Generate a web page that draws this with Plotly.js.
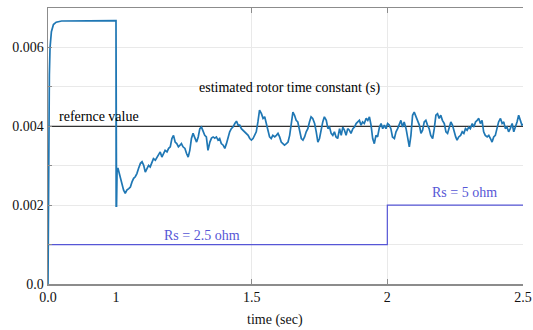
<!DOCTYPE html>
<html>
<head>
<meta charset="utf-8">
<script src="https://cdn.plot.ly/plotly-3.0.1.min.js"></script>
<style>html,body{margin:0;padding:0;background:#fff}#chart{width:533px;height:330px}</style>
</head>
<body>
<div id="chart"></div>
<script>
// ---- data ----
const estTime = [0,0.005,0.01,0.02,0.03,0.05,0.08,0.12,0.2,0.5,0.999,
1.000,1.002,1.004,1.007,1.012,1.020,1.028,1.034,1.040,1.047,1.053,1.059,1.065,1.071,1.077,1.083,1.090,1.096,1.102,1.108,1.114,1.120,1.126,1.132,1.138,1.145,1.151,1.157,1.163,1.169,1.175,1.181,1.188,1.194,1.200,1.206,1.212,1.218,1.224,1.230,
1.236,1.241,1.247,1.254,1.260,1.266,1.272,1.278,1.284,1.290,1.297,1.303,1.309,1.315,1.321,1.327,1.333,1.339,1.346,1.352,1.358,1.364,1.370,1.376,1.382,1.388,1.395,1.401,1.407,1.413,1.419,1.425,1.431,1.438,1.444,1.450,1.456,1.462,1.468,1.474,1.480,1.487,1.493,
1.499,1.505,1.511,1.517,1.523,1.529,1.536,1.542,1.548,1.554,1.560,1.566,1.572,1.578,1.585,1.591,1.597,1.603,1.609,1.615,1.621,1.628,1.634,1.640,1.646,1.652,1.658,1.664,1.670,1.676,1.683,1.689,1.695,1.701,1.707,1.713,1.719,1.725,1.732,1.738,1.744,
1.750,1.756,1.762,1.768,1.775,1.781,1.787,1.793,1.799,1.805,1.811,1.817,1.824,1.830,1.836,1.842,1.848,1.854,1.860,1.866,1.873,1.879,1.885,1.891,1.897,1.903,1.909,1.915,1.922,1.928,1.934,1.940,1.946,1.952,1.958,1.964,1.971,1.977,1.983,1.989,1.995,2.001,
2.007,2.013,2.019,2.026,2.032,2.038,2.044,2.050,2.056,2.062,2.069,2.075,2.081,2.087,2.093,2.099,2.105,2.111,2.118,2.124,2.130,2.136,2.142,2.148,2.154,2.160,2.167,2.173,2.179,2.185,2.191,2.197,2.203,2.210,2.216,2.222,2.228,2.234,2.240,2.246,2.252,
2.257,2.263,2.270,2.276,2.282,2.288,2.294,2.300,2.306,2.313,2.319,2.325,2.331,2.337,2.343,2.349,2.355,2.361,2.368,2.374,2.380,2.386,2.392,2.398,2.404,2.410,2.417,2.423,2.429,2.435,2.441,2.447,2.453,2.460,2.466,2.472,2.478,2.484,2.490,2.496,2.500];
const estValue = [0,0.0025,0.0042,0.0053,0.0060,0.0064,0.00658,0.00664,0.00667,0.00668,0.00668,
0.00668,0.00195,0.00290,0.00294,0.00280,0.00259,0.00238,0.00230,0.00238,0.00242,0.00246,0.00259,0.00268,0.00272,0.00280,0.00293,0.00306,0.00310,0.00301,0.00284,0.00293,0.00301,0.00297,0.00310,0.00318,0.00314,0.00322,0.00327,0.00335,0.00322,0.00331,0.00339,0.00335,0.00344,0.00348,0.00369,0.00377,0.00360,0.00356,0.00348,
0.00352,0.00356,0.00348,0.00344,0.00331,0.00322,0.00339,0.00369,0.00382,0.00373,0.00360,0.00373,0.00394,0.00398,0.00386,0.00377,0.00373,0.00339,0.00360,0.00370,0.00373,0.00370,0.00373,0.00365,0.00369,0.00356,0.00352,0.00344,0.00356,0.00373,0.00386,0.00394,0.00398,0.00407,0.00413,0.00403,0.00403,0.00394,0.00390,0.00386,0.00382,0.00377,0.00369,
0.00365,0.00369,0.00377,0.00386,0.00411,0.00441,0.00432,0.00420,0.00424,0.00403,0.00390,0.00373,0.00369,0.00377,0.00373,0.00377,0.00382,0.00373,0.00360,0.00356,0.00352,0.00356,0.00360,0.00377,0.00411,0.00436,0.00428,0.00415,0.00411,0.00394,0.00369,0.00365,0.00373,0.00386,0.00394,0.00411,0.00424,0.00420,0.00407,0.00386,0.00360,
0.00369,0.00394,0.00411,0.00424,0.00415,0.00394,0.00398,0.00382,0.00377,0.00386,0.00373,0.00369,0.00394,0.00377,0.00398,0.00390,0.00377,0.00394,0.00390,0.00382,0.00394,0.00398,0.00407,0.00411,0.00415,0.00403,0.00411,0.00407,0.00420,0.00415,0.00424,0.00403,0.00369,0.00356,0.00377,0.00373,0.00398,0.00407,0.00394,0.00403,0.00394,0.00407,
0.00403,0.00394,0.00373,0.00369,0.00386,0.00394,0.00403,0.00415,0.00398,0.00411,0.00394,0.00373,0.00348,0.00377,0.00428,0.00436,0.00424,0.00415,0.00403,0.00382,0.00390,0.00411,0.00415,0.00403,0.00394,0.00377,0.00369,0.00394,0.00428,0.00432,0.00420,0.00428,0.00415,0.00407,0.00386,0.00382,0.00394,0.00411,0.00403,0.00386,0.00373,
0.00365,0.00373,0.00377,0.00386,0.00382,0.00394,0.00390,0.00398,0.00394,0.00407,0.00398,0.00411,0.00415,0.00420,0.00407,0.00415,0.00386,0.00377,0.00373,0.00377,0.00369,0.00360,0.00373,0.00377,0.00394,0.00411,0.00420,0.00407,0.00411,0.00394,0.00398,0.00386,0.00394,0.00407,0.00386,0.00398,0.00411,0.00428,0.00415,0.00403,0.00405];

const refTime = [0, 2.5];
const refValue = [0.004, 0.004];

const rsTime = [0, 2, 2, 2.5];
const rsValue = [0.001, 0.001, 0.002, 0.002];

const yTickVals = [0,0.001,0.002,0.003,0.004,0.005,0.006];
const yTickText = ['0.0','','0.002','','0.004','','0.006'];
const x1TickVals = [0];
const x1TickText = ['0.0'];
const x2TickVals = [1,1.5,2,2.5];
const x2TickText = ['1','1.5','2','2.5'];

// ---- chart ----
const FONT = 'Liberation Serif, Times New Roman, serif';
const estColor = '#1f77b4', rsColor = '#5656d6', axCol = '#8c8c8c', grid = '#e9e9e9';
const traces = [];
[['x','y'],['x2','y']].forEach(([xa,ya])=>{
  traces.push({x:rsTime,y:rsValue,xaxis:xa,yaxis:ya,mode:'lines',line:{color:rsColor,width:1.2},hoverinfo:'skip'});
  traces.push({x:refTime,y:refValue,xaxis:xa,yaxis:ya,mode:'lines',line:{color:'#000',width:1},hoverinfo:'skip'});
  traces.push({x:estTime,y:estValue,xaxis:xa,yaxis:ya,mode:'lines',line:{color:estColor,width:1.7},hoverinfo:'skip'});
});
const d = 68/475;
const tickFont = {family:FONT,size:14,color:'#111'};
const axBase = {showline:true,linecolor:axCol,linewidth:1.5,ticks:'inside',ticklen:5,tickcolor:axCol,zeroline:false,fixedrange:true,tickfont:tickFont};
const layout = {
  width:533,height:330,
  margin:{l:48,r:10,t:8,b:46},
  paper_bgcolor:'#fff',plot_bgcolor:'#fff',
  showlegend:false,
  font:{family:FONT,size:14,color:'#111'},
  xaxis:Object.assign({},axBase,{domain:[0,d],range:[0,1],anchor:'y',tickmode:'array',tickvals:x1TickVals,ticktext:x1TickText,showgrid:false,mirror:'ticks'}),
  xaxis2:Object.assign({},axBase,{domain:[d,1],range:[1,2.5],anchor:'y',tickmode:'array',tickvals:x2TickVals,ticktext:x2TickText,showgrid:true,gridcolor:grid,mirror:'ticks'}),
  yaxis:Object.assign({},axBase,{range:[0,0.007],anchor:'x',tickmode:'array',tickvals:yTickVals,ticktext:yTickText,showgrid:true,gridcolor:grid,ticklen:4}),
  yaxis2:Object.assign({},axBase,{range:[0,0.007],anchor:'x2',overlaying:'y',side:'right',tickmode:'array',tickvals:yTickVals,showticklabels:false,showgrid:false,ticklen:4}),
  annotations:[
    {xref:'x',yref:'y',x:0.13,y:0.00425,text:'refernce value',showarrow:false,xanchor:'left',yanchor:'middle',font:{family:FONT,size:14,color:'#000'}},
    {xref:'x2',yref:'y',x:1.64,y:0.00496,text:'estimated rotor time constant (s)',showarrow:false,xanchor:'center',yanchor:'middle',font:{family:FONT,size:14,color:'#000'}},
    {xref:'x2',yref:'y',x:1.169,y:0.00124,text:'Rs = 2.5 ohm',showarrow:false,xanchor:'left',yanchor:'middle',font:{family:FONT,size:14,color:rsColor}},
    {xref:'x2',yref:'y',x:2.158,y:0.00233,text:'Rs = 5 ohm',showarrow:false,xanchor:'left',yanchor:'middle',font:{family:FONT,size:14,color:rsColor}},
    {xref:'paper',yref:'paper',x:0.478,y:-0.130,text:'time (sec)',showarrow:false,xanchor:'center',yanchor:'middle',font:{family:FONT,size:14,color:'#111'}}
  ]
};
Plotly.newPlot('chart',traces,layout,{displayModeBar:false,staticPlot:true});
</script>
</body>
</html>
